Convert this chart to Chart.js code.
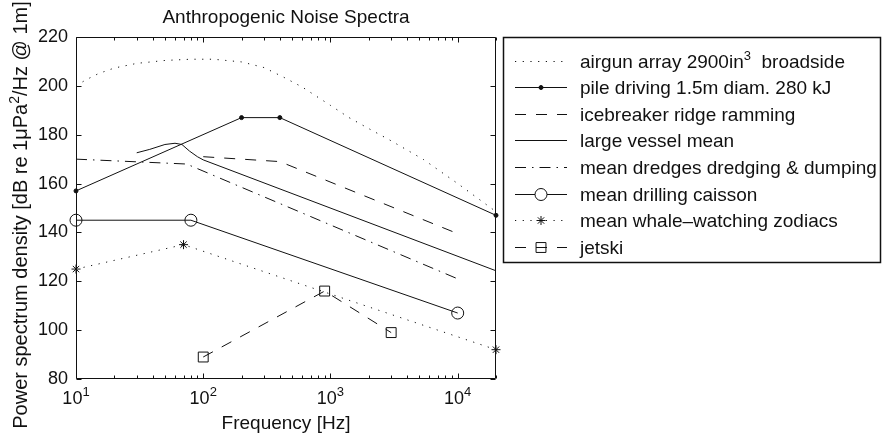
<!DOCTYPE html>
<html>
<head>
<meta charset="utf-8">
<title>Anthropogenic Noise Spectra</title>
<script src="https://cdn.jsdelivr.net/npm/chart.js@4.4.1/dist/chart.umd.min.js"></script>
<style>
  html, body { margin: 0; padding: 0; background: #fff; }
  #wrap { width: 883px; height: 438px; position: relative; }
</style>
</head>
<body>
<div id="wrap"><canvas id="spectra"></canvas></div>
<script>
// values (frequency in Hz, level in dB)
const airgunFreq  = [10, 12, 15, 20, 30, 50, 80, 120, 200, 300, 430, 600, 1000, 1400, 2000, 3000, 5400, 10000, 20000];
const airgunLevel = [200, 202.5, 205, 207.3, 209.2, 210.4, 210.9, 210.9, 209.8, 207.5, 203.5, 199.5, 192, 187, 182.5, 177.5, 169.8, 160, 148.5];

const pileFreq  = [10, 200, 400, 20000];
const pileLevel = [157, 187, 187, 147];

const iceFreq  = [100, 400, 10000];
const iceLevel = [171, 169, 139.5];

const vesselFreq  = [30, 38, 50, 60, 68, 78, 90, 100, 20000];
const vesselLevel = [172.6, 174, 176, 176.5, 176, 173.3, 171, 169.7, 124.3];

const dredgeFreq  = [10, 74, 10000];
const dredgeLevel = [170, 168, 121];

const drillFreq  = [10, 80, 10000];
const drillLevel = [145, 145, 107];

const whaleFreq  = [10, 70, 20000];
const whaleLevel = [125, 135, 92];

const jetskiFreq  = [100, 900, 3000];
const jetskiLevel = [89, 116, 99];

const seriesNames = [
  ['airgun array 2900in', '3', '  broadside'],
  ['pile driving 1.5m diam. 280 kJ'],
  ['icebreaker ridge ramming'],
  ['large vessel mean'],
  ['mean dredges dredging & dumping'],
  ['mean drilling caisson'],
  ['mean whale\u2013watching zodiacs'],
  ['jetski']
];

const yTicks = [80, 100, 120, 140, 160, 180, 200, 220];
const xDecades = [10, 100, 1000, 10000];

const FONT = '"Liberation Sans", Arial, Helvetica, sans-serif';
const INK = '#111';
const DOTS = [1.2, 6.5];
const DASH = [11, 10];
const DASHDOT = [11, 6, 1.5, 6];

function pts(f, v) {
  return f.map((x, i) => ({ x: x, y: v[i] }));
}

function series(label, f, v, dash, marker) {
  const m = marker || {};
  return {
    label: label,
    data: pts(f, v),
    borderColor: INK,
    borderWidth: 1,
    borderDash: dash,
    tension: 0,
    fill: false,
    clip: false,
    pointStyle: m.style || 'circle',
    pointRadius: m.r || 0,
    pointBorderColor: INK,
    pointBorderWidth: 1,
    pointBackgroundColor: m.filled ? INK : 'rgba(0,0,0,0)',
    pointHoverRadius: m.r || 0
  };
}

const datasets = [
  series(seriesNames[0].join(''), airgunFreq, airgunLevel, DOTS),
  series(seriesNames[1][0], pileFreq, pileLevel, [], { style: 'circle', r: 2, filled: true }),
  series(seriesNames[2][0], iceFreq, iceLevel, DASH),
  series(seriesNames[3][0], vesselFreq, vesselLevel, []),
  series(seriesNames[4][0], dredgeFreq, dredgeLevel, DASHDOT),
  series(seriesNames[5][0], drillFreq, drillLevel, [], { style: 'circle', r: 6 }),
  series(seriesNames[6][0], whaleFreq, whaleLevel, DOTS, { style: 'star', r: 4.5 }),
  series(seriesNames[7][0], jetskiFreq, jetskiLevel, DASH, { style: 'rect', r: 7 })
];

// text with superscript pieces: parts alternate normal / superscript
function richWidth(ctx, parts, size) {
  let w = 0;
  parts.forEach((p, i) => {
    ctx.font = (i % 2 ? Math.round(size * 0.7) : size) + 'px ' + FONT;
    w += ctx.measureText(p).width;
  });
  return w;
}

function drawRich(ctx, parts, x, y, size) {
  let cx = x;
  parts.forEach((p, i) => {
    const sup = i % 2 === 1;
    ctx.font = (sup ? Math.round(size * 0.7) : size) + 'px ' + FONT;
    ctx.fillText(p, cx, sup ? y - size * 0.42 : y);
    cx += ctx.measureText(p).width;
  });
}

function legendMarker(ctx, ds, x, y) {
  const r = ds.pointRadius;
  if (!r) return;
  ctx.setLineDash([]);
  ctx.beginPath();
  if (ds.pointStyle === 'circle') {
    ctx.arc(x, y, r, 0, Math.PI * 2);
    ctx.fillStyle = ds.pointBackgroundColor === INK ? INK : '#fff';
    ctx.fill();
    ctx.fillStyle = INK;
    ctx.stroke();
  } else if (ds.pointStyle === 'rect') {
    const s = Math.SQRT1_2 * r;
    ctx.rect(x - s, y - s, 2 * s, 2 * s);
    ctx.stroke();
  } else if (ds.pointStyle === 'star') {
    const d = r * Math.SQRT1_2;
    ctx.moveTo(x - r, y); ctx.lineTo(x + r, y);
    ctx.moveTo(x, y - r); ctx.lineTo(x, y + r);
    ctx.moveTo(x - d, y - d); ctx.lineTo(x + d, y + d);
    ctx.moveTo(x - d, y + d); ctx.lineTo(x + d, y - d);
    ctx.stroke();
  }
}

const decor = {
  id: 'decor',
  afterDatasetsDraw(chart) {
    const ctx = chart.ctx;
    const a = chart.chartArea;
    const x = chart.scales.x;
    const y = chart.scales.y;
    const L = Math.round(a.left) + 0.5, R = Math.round(a.right) - 0.5;
    const T = Math.round(a.top) + 0.5, B = Math.round(a.bottom) - 0.5;
    ctx.save();
    ctx.strokeStyle = INK;
    ctx.lineWidth = 1;
    ctx.setLineDash([]);
    ctx.beginPath();
    ctx.rect(L, T, R - L, B - T);
    for (let d = 10; d <= 10000; d *= 10) {
      for (let m = 1; m <= 9; m++) {
        const f = d * m;
        if (f > 20000) break;
        const px = Math.round(x.getPixelForValue(f)) + 0.5;
        const len = m === 1 ? 5 : 3;
        ctx.moveTo(px, B); ctx.lineTo(px, B - len);
        ctx.moveTo(px, T); ctx.lineTo(px, T + len);
      }
    }
    yTicks.forEach(v => {
      const py = Math.round(y.getPixelForValue(v)) + 0.5;
      ctx.moveTo(L, py); ctx.lineTo(L + 5, py);
      ctx.moveTo(R, py); ctx.lineTo(R - 5, py);
    });
    ctx.stroke();
    ctx.restore();
  },
  afterDraw(chart) {
    const ctx = chart.ctx;
    const a = chart.chartArea;
    const x = chart.scales.x;
    const cx = (a.left + a.right) / 2;
    ctx.save();
    ctx.fillStyle = INK;
    ctx.textBaseline = 'alphabetic';
    ctx.textAlign = 'left';

    // title
    ctx.font = '19px ' + FONT;
    let w = ctx.measureText('Anthropogenic Noise Spectra').width;
    ctx.fillText('Anthropogenic Noise Spectra', cx - w / 2, 23);

    // x tick labels 10^n
    xDecades.forEach(v => {
      const parts = ['10', String(Math.round(Math.log10(v)))];
      const tw = richWidth(ctx, parts, 18);
      drawRich(ctx, parts, x.getPixelForValue(v) - tw / 2, 404, 18);
    });

    // x title
    ctx.font = '19px ' + FONT;
    w = ctx.measureText('Frequency [Hz]').width;
    ctx.fillText('Frequency [Hz]', cx - w / 2, 429);

    // y title (rotated)
    const yParts = ['Power spectrum density [dB re 1\u03bcPa', '2', '/Hz @ 1m]'];
    const yw = richWidth(ctx, yParts, 20);
    ctx.save();
    ctx.translate(27, (a.top + a.bottom) / 2 + 7);
    ctx.rotate(-Math.PI / 2);
    drawRich(ctx, yParts, -yw / 2, 0, 20);
    ctx.restore();

    // legend box
    const lx = 503.5, ly = 37.5, lw = 377, lh = 225;
    ctx.strokeStyle = INK;
    ctx.lineWidth = 1.5;
    ctx.setLineDash([]);
    ctx.strokeRect(lx, ly, lw, lh);
    ctx.lineWidth = 1;
    chart.data.datasets.forEach((ds, i) => {
      const ry = Math.round(ly + 23 + i * 26.6) + 0.5;
      ctx.setLineDash(ds.borderDash);
      ctx.lineDashOffset = 0;
      ctx.beginPath();
      ctx.moveTo(515, ry);
      ctx.lineTo(567, ry);
      ctx.stroke();
      legendMarker(ctx, ds, 541, ry);
      ctx.setLineDash([]);
      drawRich(ctx, seriesNames[i], 580, ry + 6.5, 19);
    });
    ctx.restore();
  }
};

new Chart(document.getElementById('spectra'), {
  type: 'line',
  data: { datasets: datasets },
  options: {
    responsive: true,
    maintainAspectRatio: false,
    animation: false,
    events: [],
    layout: { padding: { top: 37, right: 387, left: 0, bottom: 0 } },
    plugins: {
      legend: { display: false },
      title: { display: false },
      tooltip: { enabled: false }
    },
    scales: {
      x: {
        type: 'logarithmic',
        min: 10,
        max: 20000,
        grid: { display: false, drawTicks: false },
        border: { display: false },
        ticks: { display: false },
        afterFit(scale) { scale.height = 59; }
      },
      y: {
        type: 'linear',
        min: 80,
        max: 220,
        grid: { display: false, drawTicks: false },
        border: { display: false },
        ticks: {
          stepSize: 20,
          padding: 8,
          color: INK,
          font: { family: FONT, size: 18 }
        },
        afterFit(scale) { scale.width = 76; }
      }
    }
  },
  plugins: [decor]
});
</script>
</body>
</html>
